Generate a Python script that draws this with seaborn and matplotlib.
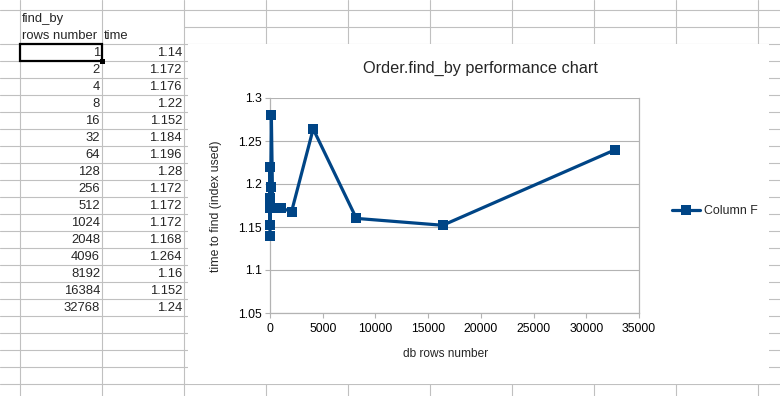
import matplotlib
matplotlib.use('Agg')
import matplotlib.pyplot as plt
import matplotlib.ticker as mticker
from matplotlib.patches import Rectangle
import seaborn as sns
import pandas as pd

# data from the sheet
rows_number = [1, 2, 4, 8, 16, 32, 64, 128, 256, 512, 1024, 2048, 4096, 8192, 16384, 32768]
times = [1.14, 1.172, 1.176, 1.22, 1.152, 1.184, 1.196, 1.28, 1.172, 1.172,
         1.172, 1.168, 1.264, 1.16, 1.152, 1.24]
time_labels = ['1.14', '1.172', '1.176', '1.22', '1.152', '1.184', '1.196', '1.28',
               '1.172', '1.172', '1.172', '1.168', '1.264', '1.16', '1.152', '1.24']
series_name = 'Column F'

df = pd.DataFrame({'rows': rows_number, 'time': times})

sns.set_style('white')
plt.rcParams['font.family'] = ['Liberation Sans', 'DejaVu Sans']

W, H = 780, 396
fig = plt.figure(figsize=(W / 100, H / 100), dpi=100)

# spreadsheet background in pixel coordinates
bg = fig.add_axes([0, 0, 1, 1])
bg.set_xlim(0, W)
bg.set_ylim(H, 0)
bg.axis('off')

grid_col = '#c0c0c0'
col_lines = [20 + 82 * i for i in range(10)]
row_lines = [10 + 17 * i for i in range(23)]
for x in col_lines:
    bg.plot([x, x], [0, H], color=grid_col, lw=0.8, zorder=1)
for y in row_lines:
    x0 = 184 if y == 27 else 0
    bg.plot([x0, W], [y, y], color=grid_col, lw=0.8, zorder=1)

fs = 9.4
bg.text(22, 19, 'find_by', fontsize=fs, va='center', ha='left', zorder=3)
bg.text(22, 36, 'rows number', fontsize=fs, va='center', ha='left', zorder=3)
bg.text(104, 36, 'time', fontsize=fs, va='center', ha='left', zorder=3)
for i, (r, t) in enumerate(zip(rows_number, time_labels)):
    yc = 44 + 17 * i + 9
    bg.text(100, yc, str(r), fontsize=fs, va='center', ha='right', zorder=3)
    bg.text(182, yc, t, fontsize=fs, va='center', ha='right', zorder=3)

# selected cell
bg.add_patch(Rectangle((20, 44), 82, 17, fill=False, ec='black', lw=1.6, zorder=4))
bg.add_patch(Rectangle((99.5, 58.5), 5, 5, fc='black', ec='none', zorder=5))

# chart area covering the grid
bg.add_patch(Rectangle((188, 44), 581, 340, fc='white', ec='none', zorder=2))

# plot area
ax_l, ax_r, ax_t, ax_b = 270, 639, 98, 313
ax = fig.add_axes([ax_l / W, (H - ax_b) / H, (ax_r - ax_l) / W, (ax_b - ax_t) / H])
ax.set_facecolor('none')

sns.lineplot(data=df, x='rows', y='time', ax=ax, marker='s', color='#004586',
             linewidth=2.3, markersize=7.5, markeredgewidth=0, label=series_name,
             zorder=5)
for ln in ax.lines:
    ln.set_clip_on(False)

ax.set_xlim(0, 35000)
ax.set_ylim(1.05, 1.3)
ax.xaxis.set_major_locator(mticker.MultipleLocator(5000))
ax.yaxis.set_major_locator(mticker.MultipleLocator(0.05))
ax.yaxis.set_major_formatter(mticker.FuncFormatter(lambda v, p: '%g' % round(v, 3)))
ax.xaxis.set_major_formatter(mticker.FuncFormatter(lambda v, p: '%d' % v))
ax.grid(axis='y', color='#b3b3b3', lw=0.8)
ax.grid(axis='x', visible=False)
ax.set_axisbelow(True)

for side in ['left', 'bottom', 'right']:
    ax.spines[side].set_color('#b3b3b3')
    ax.spines[side].set_linewidth(0.9)
ax.spines['top'].set_visible(False)
ax.tick_params(axis='both', direction='out', length=3.5, width=0.8, color='#b3b3b3',
               labelsize=8.8, labelcolor='black', left=True, bottom=True)
ax.tick_params(axis='y', pad=2.5)
ax.tick_params(axis='x', pad=4)

ax.set_xlabel('')
ax.set_ylabel('')
fig.text(446 / W, (H - 354) / H, 'db rows number', fontsize=8.6, ha='center', va='center')
fig.text(216 / W, (H - 206) / H, 'time to find (index used)', fontsize=8.8,
         ha='center', va='center', rotation=90)
fig.text(480 / W, (H - 68) / H, 'Order.find_by performance chart', fontsize=11.7,
         ha='center', va='center')

handles, labels = ax.get_legend_handles_labels()
ax.get_legend().remove()
fig.legend(handles, labels, loc='center left', bbox_to_anchor=(672 / W, (H - 211) / H),
           frameon=False, fontsize=8.9, borderpad=0, borderaxespad=0,
           handlelength=2.25, handletextpad=0.3)

fig.savefig('out.png', dpi=100)
